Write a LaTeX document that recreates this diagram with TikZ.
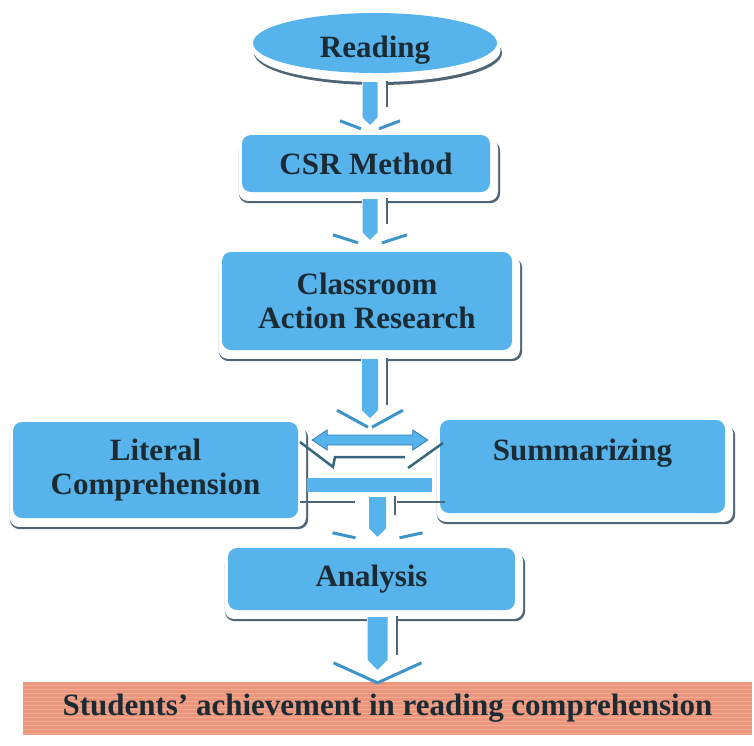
\documentclass[tikz,border=0pt]{standalone}
\usepackage{fontspec}
\setmainfont{Liberation Serif}
\usetikzlibrary{calc,shapes.geometric}

\definecolor{boxblue}{HTML}{56B3EB}
\definecolor{inkdark}{HTML}{1C2B33}
\definecolor{shadedge}{HTML}{4E6577}
\definecolor{chevblue}{HTML}{3E93C8}
\definecolor{arrowedge}{HTML}{2F7DB3}
\definecolor{barfill}{HTML}{EA957C}
\definecolor{barstripe}{HTML}{F1AD91}
\definecolor{zline}{HTML}{35687E}

\pgfdeclarelayer{back}
\pgfsetlayers{back,main}

\tikzset{
  lbl/.style={font=\bfseries\fontsize{31}{33.5}\selectfont, text=inkdark, align=center},
  flowbox/.style={lbl, rectangle, rounded corners=9pt, fill=boxblue, inner sep=0pt},
  ovalbox/.style={lbl, ellipse, fill=boxblue, inner sep=0pt},
  resultbar/.style={lbl, rectangle, inner sep=0pt},
  chev/.style={chevblue, line width=3pt},
  shadowline/.style={shadedge, line width=2pt},
  zstroke/.style={zline, line width=2.5pt}
}

% drop-shadow edge behind a rectangular box
\newcommand\boxshadow[1]{%
  \fill[shadedge, rounded corners=10pt]
    ([xshift=-3pt,yshift=-6pt]#1.north west) rectangle ([xshift=10pt,yshift=-11pt]#1.south east);
  \fill[white, rounded corners=9pt]
    ([xshift=-3pt,yshift=-4pt]#1.north west) rectangle ([xshift=7.8pt,yshift=-8.7pt]#1.south east);
}

% downward block arrow: #1 shaft top, #2 tip level, #3 half width,
% #4 length of the side shadow line, #5/#6 outer dx/rise of the chevron,
% #7/#8 inner dx/drop of the chevron
\newcommand\shaftdown[8]{%
  \fill[white] let \p1=(#1), \p2=(#2) in
    (\x1-#3-1pt,\y1+5pt) rectangle (\x1+#3+9pt,\y2);
  \draw[shadowline] let \p1=(#1), \p2=(#2) in
    (\x1+#3+9pt,\y1+4pt) -- (\x1+#3+9pt,\y1-#4);
  \fill[boxblue] let \p1=(#1), \p2=(#2) in
    (\x1-#3,\y1+3pt) -- (\x1+#3,\y1+3pt) -- (\x1+#3,\y2+#3) -- (\x1,\y2)
    -- (\x1-#3,\y2+#3) -- cycle;
  \draw[chev] let \p1=(#1), \p2=(#2) in
    (\x1-#5,\y2+#6) -- (\x1-#7,\y2-#8)
    (\x1+#7,\y2-#8) -- (\x1+#5,\y2+#6);
}

\begin{document}
\begin{tikzpicture}[x=1pt, y=-1pt]
\useasboundingbox (0,0) rectangle (754,745);

% boxes
\node[ovalbox, minimum width=244pt, minimum height=60pt, text height=28pt, text depth=0pt] (read) at (375,43) {Reading};
\node[flowbox, minimum width=248pt, minimum height=57pt] (csr) at (366,163.5) {CSR Method};
\node[flowbox, minimum width=290pt, minimum height=98pt] (car) at (367,301) {Classroom\\Action Research};
\node[flowbox, minimum width=285pt, minimum height=96pt] (lit) at (155.5,470) {Literal\\Comprehension};
\node[flowbox, minimum width=285pt, minimum height=93pt] (sum) at (582.5,466.5) {Summarizing\\\mbox{}};
\node[rectangle, fill=boxblue, minimum width=125pt, minimum height=14pt, inner sep=0pt] (hbar) at (369.5,485) {};
\node[flowbox, minimum width=287pt, minimum height=62pt] (ana) at (371.5,579) {Analysis};
\node[resultbar, minimum width=729pt, minimum height=53pt] (bar) at (387.5,708.5)
  {Students’ achievement in reading comprehension};

% shadows and the striped result bar
\begin{pgfonlayer}{back}
  \fill[shadedge] ($(read.center)+(3,10)$) ellipse [x radius=124pt, y radius=32pt];
  \fill[white] ($(read.center)+(2,7.5)$) ellipse [x radius=123.5pt, y radius=31.5pt];
  \boxshadow{csr}
  \boxshadow{car}
  \boxshadow{lit}
  \boxshadow{sum}
  \boxshadow{ana}
  \fill[barfill] (bar.north west) rectangle (bar.south east);
  \foreach \yy in {685,689,...,733}
    \draw[barstripe, line width=1pt] (bar.west |- 0,\yy) -- (bar.east |- 0,\yy);
\end{pgfonlayer}

% shadow strokes around the two-way arrow and the bar below it
\draw[zstroke] (300,442) -- (333,467) -- (335,457) -- (405,457);
\draw[zstroke] (408,468) -- (443,443);
\draw[shadowline] (300,502) -- (355,502);
\draw[shadowline] (397,502) -- (445,502);

% two-way arrow between the two comprehension boxes
\filldraw[fill=boxblue, draw=arrowedge, line width=0.8pt]
  let \p1=($(lit.east)+(14,0)$), \p2=($(sum.west)+(-12,0)$), \p3=(0,440) in
  (\x1,\y3) -- (\x1+15pt,\y3+10pt) -- (\x1+15pt,\y3+5pt) -- (\x2-15pt,\y3+5pt)
  -- (\x2-15pt,\y3+10pt) -- (\x2,\y3) -- (\x2-15pt,\y3-10pt) -- (\x2-15pt,\y3-5pt)
  -- (\x1+15pt,\y3-5pt) -- (\x1+15pt,\y3-10pt) -- cycle;

% downward arrows
\shaftdown{$(read.south)+(-5,12)$}{$(csr.north)+(0,-10)$}{7.5pt}{22pt}{30pt}{4pt}{9pt}{4pt}
\shaftdown{$(csr.south)+(4,10)$}{$(car.north)+(0,-12)$}{7.5pt}{22pt}{37pt}{5pt}{12pt}{3pt}
\shaftdown{$(car.south)+(3,12)$}{$(car.south)+(0,68)$}{8pt}{43pt}{33pt}{8pt}{2pt}{9pt}
\shaftdown{$(hbar.south)+(8,8)$}{$(ana.north)+(0,-11)$}{8.5pt}{15pt}{45pt}{4pt}{22pt}{1pt}
\shaftdown{$(ana.south)+(6,10)$}{$(bar.north)+(0,-12)$}{10pt}{35pt}{44pt}{7pt}{0pt}{13pt}

\end{tikzpicture}
\end{document}
